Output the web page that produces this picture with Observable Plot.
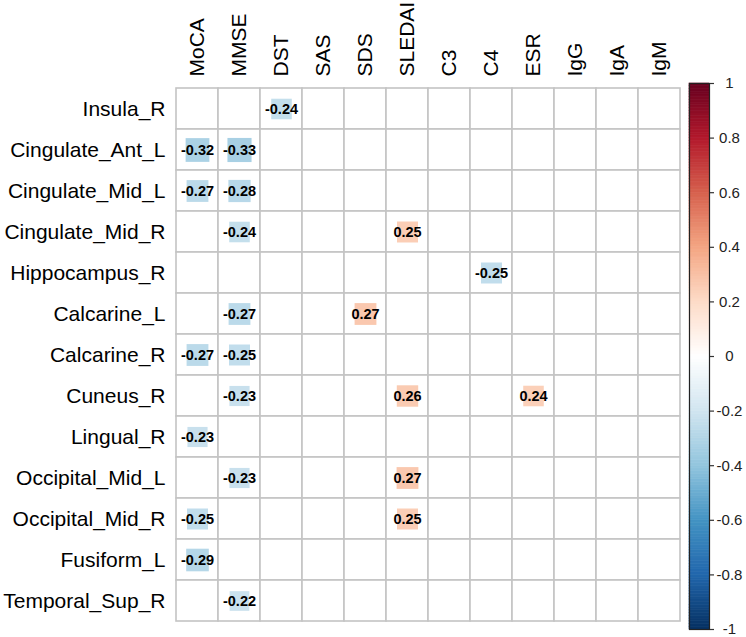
<!DOCTYPE html>
<html>
<head>
<meta charset="utf-8">
<script src="https://cdn.jsdelivr.net/npm/d3@7"></script>
<script src="https://cdn.jsdelivr.net/npm/@observablehq/plot@0.6"></script>
<style>
  html, body { margin: 0; padding: 0; background: #fff; }
  #wrap { position: relative; width: 746px; height: 637px; overflow: hidden; }
  #main { position: absolute; left: 0; top: 0; }
  #bar { position: absolute; left: 686px; top: 0; }
</style>
</head>
<body>
<div id="wrap"><div id="main"></div><div id="bar"></div></div>
<script>
// ---- data ----
const rows = ["Insula_R","Cingulate_Ant_L","Cingulate_Mid_L","Cingulate_Mid_R","Hippocampus_R","Calcarine_L","Calcarine_R","Cuneus_R","Lingual_R","Occipital_Mid_L","Occipital_Mid_R","Fusiform_L","Temporal_Sup_R"];
const cols = ["MoCA","MMSE","DST","SAS","SDS","SLEDAI","C3","C4","ESR","IgG","IgA","IgM"];

const sigRow = ["Insula_R","Cingulate_Ant_L","Cingulate_Ant_L","Cingulate_Mid_L","Cingulate_Mid_L","Cingulate_Mid_R","Cingulate_Mid_R","Hippocampus_R","Calcarine_L","Calcarine_L","Calcarine_R","Calcarine_R","Cuneus_R","Cuneus_R","Cuneus_R","Lingual_R","Occipital_Mid_L","Occipital_Mid_L","Occipital_Mid_R","Occipital_Mid_R","Fusiform_L","Temporal_Sup_R"];
const sigCol = ["DST","MoCA","MMSE","MoCA","MMSE","MMSE","SLEDAI","C4","MMSE","SDS","MoCA","MMSE","MMSE","SLEDAI","ESR","MoCA","MMSE","SLEDAI","MoCA","SLEDAI","MoCA","MMSE"];
const sigR   = [-0.24,-0.32,-0.33,-0.27,-0.28,-0.24,0.25,-0.25,-0.27,0.27,-0.27,-0.25,-0.23,0.26,0.24,-0.23,-0.23,0.27,-0.25,0.25,-0.29,-0.22];

const legendTicks = [1,0.8,0.6,0.4,0.2,0,-0.2,-0.4,-0.6,-0.8,-1];
const colorDomain = [-1,-0.8,-0.6,-0.4,-0.2,0,0.2,0.4,0.6,0.8,1];
const colorRange = ["#053061","#2166AC","#4393C3","#92C5DE","#D1E5F0","#FFFFFF","#FDDBC7","#F4A582","#D6604D","#B2182B","#67001F"];

// ---- tables built from arrays ----
const grid = d3.cross(rows, cols).map(([r, c]) => ({row: r, col: c}));
const sig = sigR.map((v, i) => ({row: sigRow[i], col: sigCol[i], r: v}));
const bins = d3.range(-1, 1, 0.01).map(v => ({lo: v, hi: v + 0.01, mid: v + 0.005}));
const fmt = v => v === 0 ? "0" : String(+v.toFixed(2)).replace("\u2212", "-");

const colorScale = {type: "linear", domain: colorDomain, range: colorRange, interpolate: "rgb"};
const cellSize = 42;

const main = Plot.plot({
  width: 746,
  height: 637,
  marginLeft: 175,
  marginRight: 65,
  marginTop: 82,
  marginBottom: 10,
  style: {fontFamily: "'Liberation Sans', Arial, sans-serif", fontSize: "21px", color: "#000", background: "transparent"},
  x: {type: "band", domain: cols, padding: 0, axis: "top", tickRotate: -90, tickSize: 0, tickPadding: 6, label: null},
  y: {type: "band", domain: rows, padding: 0, axis: "left", tickSize: 0, tickPadding: 10, label: null},
  color: colorScale,
  r: {type: "sqrt", domain: [0, 1], range: [0, cellSize / Math.sqrt(Math.PI)]},
  marks: [
    Plot.cell(grid, {x: "col", y: "row", fill: "white", stroke: "#c4c4c4", strokeWidth: 1.6, inset: 0}),
    Plot.dot(sig, {x: "col", y: "row", symbol: "square", r: d => Math.abs(d.r), fill: "r", stroke: null}),
    Plot.text(sig, {x: "col", y: "row", text: d => fmt(d.r), fontSize: 14.5, fontWeight: "bold", fill: "#000"})
  ]
});
document.getElementById("main").appendChild(main);

const bar = Plot.plot({
  width: 60,
  height: 637,
  marginLeft: 3,
  marginRight: 37,
  marginTop: 83,
  marginBottom: 8,
  style: {fontFamily: "'Liberation Sans', Arial, sans-serif", fontSize: "15px", color: "#222", background: "transparent"},
  x: {domain: [0, 1], axis: null},
  y: {domain: [-1, 1], axis: null},
  color: colorScale,
  marks: [
    Plot.rect(bins, {x1: 0, x2: 1, y1: "lo", y2: "hi", fill: "mid", stroke: "mid", strokeWidth: 0.6, inset: 0}),
    Plot.frame({stroke: "#222", strokeWidth: 1.2}),
    Plot.axisY({anchor: "right", ticks: legendTicks, tickSize: 4, tickFormat: () => "", stroke: "#333", strokeWidth: 1.2}),
    Plot.text(legendTicks, {y: d => d, x: 1, dx: 20, text: d => fmt(d), textAnchor: "middle", fill: "#222", fontSize: 15})
  ]
});
document.getElementById("bar").appendChild(bar);
</script>
</body>
</html>
